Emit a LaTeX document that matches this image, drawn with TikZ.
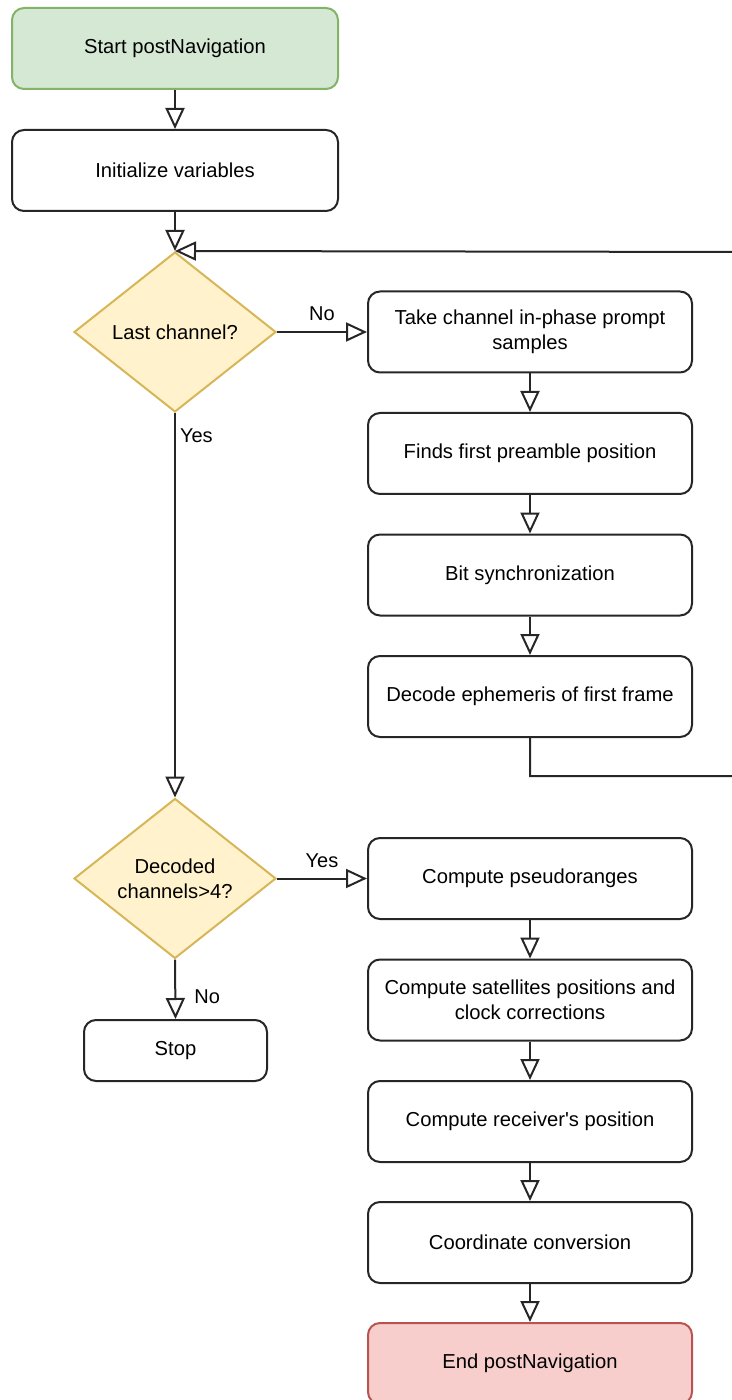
\documentclass[tikz,border=0pt]{standalone}
\usepackage{fontspec}
\setmainfont{Liberation Sans}
\usetikzlibrary{shapes.geometric, arrows.meta, positioning}
\definecolor{startgreen}{HTML}{D5E8D4}
\definecolor{startgreenline}{HTML}{82B366}
\definecolor{askyellow}{HTML}{FFF2CC}
\definecolor{askyellowline}{HTML}{D6B656}
\definecolor{endred}{HTML}{F8CECC}
\definecolor{endredline}{HTML}{B85450}
\definecolor{inkline}{HTML}{262626}

\begin{document}
\begin{tikzpicture}[
  x=0.5pt, y=-0.5pt,
  stepbox/.style={rectangle, draw=inkline, fill=white, rounded corners=6pt, line width=1pt,
                  font=\fontsize{10.1}{12.5}\selectfont, minimum width=162pt, minimum height=40.5pt,
                  align=center, inner sep=2pt},
  termbox/.style={stepbox, draw=#1line, fill=#1},
  ask/.style={diamond, draw=askyellowline, fill=askyellow, line width=1pt, aspect=1.2625,
              font=\fontsize{10.1}{12.5}\selectfont, minimum width=101pt, minimum height=80pt,
              inner sep=0pt, align=center},
  arr/.style={-{Triangle[open, length=10.5pt, width=9.5pt]}, line width=1pt, draw=inkline},
  lbl/.style={font=\fontsize{10}{12}\selectfont, inner sep=2pt},
]
  \useasboundingbox (0,0) rectangle (732,1400);

  % Left column
  \node[termbox=startgreen, minimum width=163pt] (start) at (175,48.5) {Start postNavigation};
  \node[stepbox, minimum width=163pt] (init) at (175,170.5) {Initialize variables};
  \node[ask] (last) at (175,332) {Last channel?};
  \node[ask] (decoded) at (175,878.5) {Decoded\\channels>4?};
  \node[stepbox, minimum width=91.5pt, minimum height=30.5pt] (stop) at (175.5,1050.5) {Stop};

  % Channel loop
  \node[stepbox] (take) at (530,332) {Take channel in-phase prompt\\samples};
  \node[stepbox] (preamble) at (530,453.5) {Finds first preamble position};
  \node[stepbox] (bitsync) at (530,575) {Bit synchronization};
  \node[stepbox] (ephem) at (530,696.5) {Decode ephemeris of first frame};

  % Navigation solution
  \node[stepbox] (pseudo) at (530,878.5) {Compute pseudoranges};
  \node[stepbox] (satpos) at (530,1000) {Compute satellites positions and\\clock corrections};
  \node[stepbox] (rxpos) at (530,1121.5) {Compute receiver\textquotesingle s position};
  \node[stepbox] (coord) at (530,1242.5) {Coordinate conversion};
  \node[termbox=endred] (finish) at (530,1363.5) {End postNavigation};

  \coordinate (loopB) at (750,776);
  \coordinate (loopT) at (750,252);

  % Connectors
  \draw[arr] (start) -- (init);
  \draw[arr] (init) -- (last.north);
  \draw[arr] (last.east) -- node[lbl, above, yshift=3pt] {No} (take.west);
  \draw[arr] (take) -- (preamble);
  \draw[arr] (preamble) -- (bitsync);
  \draw[arr] (bitsync) -- (ephem);
  \draw[arr] (ephem.south) |- (loopB) -- (loopT) -- (last.north);
  \draw[arr] (last.south) -- node[lbl, right, pos=0.058] {Yes} (decoded.north);
  \draw[arr] (decoded.east) -- node[lbl, above, yshift=3pt] {Yes} (pseudo.west);
  \draw[arr] (decoded.south) -- node[lbl, right, pos=0.62, xshift=7pt] {No} (stop.north);
  \draw[arr] (pseudo) -- (satpos);
  \draw[arr] (satpos) -- (rxpos);
  \draw[arr] (rxpos) -- (coord);
  \draw[arr] (coord) -- (finish);
\end{tikzpicture}
\end{document}
